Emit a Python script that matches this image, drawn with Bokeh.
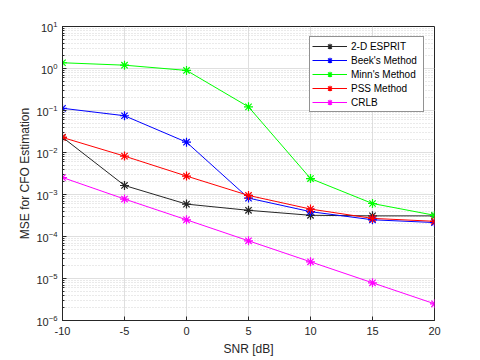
from bokeh.plotting import figure
from bokeh.models import Legend, LegendItem, Range1d, FixedTicker, LogTicker, CustomJSTickFormatter
from bokeh.embed import file_html
from bokeh.resources import INLINE

snr = [-10, -5, 0, 5, 10, 15, 20]
esprit = [0.023, 1.64e-3, 5.9e-4, 4.2e-4, 3.2e-4, 3.1e-4, 3.1e-4]
beek = [0.113, 0.075, 0.0176, 8.2e-4, 3.9e-4, 2.5e-4, 2.15e-4]
minn = [1.37, 1.2, 0.9, 0.122, 0.0024, 6.1e-4, 3.2e-4]
pss = [0.0228, 0.0082, 0.00275, 9.5e-4, 4.5e-4, 2.7e-4, 2.3e-4]
crlb = [2.54e-3, 7.8e-4, 2.5e-4, 7.9e-5, 2.5e-5, 7.9e-6, 2.5e-6]

names = ["2-D ESPRIT", "Beek's Method", "Minn's Method", "PSS Method", "CRLB"]
series = [esprit, beek, minn, pss, crlb]
colors = ["#262626", "#0000ff", "#00ff00", "#ff0000", "#ff00ff"]

FONT = "Liberation Sans"
TXT = "#262626"

p = figure(width=480, height=360, output_backend="svg", toolbar_location=None,
           y_axis_type="log", x_range=Range1d(-10, 20), y_range=Range1d(1e-6, 10),
           min_border_left=62, min_border_right=46, min_border_top=26, min_border_bottom=40)

p.outline_line_color = TXT
p.outline_line_width = 1
p.outline_line_alpha = 1

p.xaxis.ticker = FixedTicker(ticks=[-10, -5, 0, 5, 10, 15, 20])
p.xaxis.formatter = CustomJSTickFormatter(code="return tick.toString();")
p.yaxis.ticker = LogTicker(num_minor_ticks=10)

for ax in (p.xaxis, p.yaxis):
    ax.axis_line_color = TXT
    ax.major_tick_line_color = TXT
    ax.minor_tick_line_color = TXT
    ax.major_tick_in = 4
    ax.major_tick_out = 0
    ax.minor_tick_in = 2
    ax.minor_tick_out = 0
    ax.major_label_text_font = FONT
    ax.major_label_text_font_size = "11px"
    ax.major_label_text_color = TXT
    ax.axis_label_text_font = FONT
    ax.axis_label_text_font_size = "12px"
    ax.axis_label_text_font_style = "normal"
    ax.axis_label_text_color = TXT
p.xaxis.minor_tick_line_color = None
p.xaxis.axis_label = "SNR [dB]"
p.yaxis.axis_label = "MSE for CFO Estimation"
p.xaxis.major_label_standoff = 6
p.xaxis.axis_label_standoff = 4
p.yaxis.major_label_standoff = 5
p.yaxis.axis_label_standoff = 1

p.xgrid.grid_line_color = "#dfdfdf"
p.ygrid.grid_line_color = "#dfdfdf"
p.ygrid.minor_grid_line_color = "#d4d4d4"
p.ygrid.minor_grid_line_dash = "1 2"

items = []
for name, ys, c in zip(names, series, colors):
    r1 = p.line(snr, ys, line_color=c, line_width=1)
    r2 = p.scatter(snr, ys, marker="asterisk", size=9, line_color=c, line_width=1.2)
    items.append(LegendItem(label=name, renderers=[r1, r2]))

legend = Legend(items=items, location="top_right")
legend.margin = 10
legend.padding = 2
legend.spacing = 0
legend.label_height = 14
legend.glyph_height = 14
legend.glyph_width = 35
legend.label_width = 70
legend.label_standoff = 4
legend.label_text_font = FONT
legend.label_text_font_size = "10px"
legend.label_text_color = "#000000"
legend.border_line_color = TXT
legend.border_line_width = 1
legend.background_fill_color = "white"
legend.background_fill_alpha = 1
p.add_layout(legend)

open("out.html", "w").write(file_html(p, INLINE))
